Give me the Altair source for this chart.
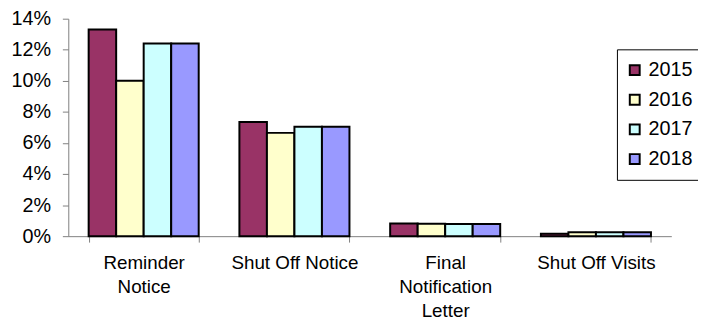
import altair as alt
import pandas as pd

categories = ["Reminder Notice", "Shut Off Notice", "Final Notification Letter", "Shut Off Visits"]
years = ["2015", "2016", "2017", "2018"]
v2015 = [13.3, 7.35, 0.82, 0.15]
v2016 = [10.0, 6.65, 0.80, 0.25]
v2017 = [12.4, 7.05, 0.78, 0.25]
v2018 = [12.4, 7.05, 0.78, 0.25]
colors = ["#993366", "#FFFFCC", "#CCFFFF", "#9999FF"]
y_ticks = [0, 0.02, 0.04, 0.06, 0.08, 0.10, 0.12, 0.14]

rows = []
for yr, vals in zip(years, [v2015, v2016, v2017, v2018]):
    for c, v in zip(categories, vals):
        rows.append({"category": c, "year": yr, "value": v / 100})
df = pd.DataFrame(rows)

label_expr = (
    "datum.value == 'Reminder Notice' ? ['Reminder', 'Notice'] : "
    "datum.value == 'Final Notification Letter' ? ['Final', 'Notification', 'Letter'] : datum.value"
)

font = "Liberation Sans"

chart = alt.Chart(df).mark_bar(stroke="black", strokeWidth=2).encode(
    x=alt.X(
        "category:N",
        sort=categories,
        scale=alt.Scale(paddingInner=0.27, paddingOuter=0.135),
        axis=alt.Axis(
            title=None, labelAngle=0, labelExpr=label_expr, tickBand="extent",
            tickSize=6, tickColor="#808080", domainColor="#808080",
            labelFont=font, labelFontSize=19, labelColor="black",
            labelPadding=12, labelLineHeight=24, labelBaseline="top",
        ),
    ),
    xOffset=alt.XOffset("year:N", sort=years),
    y=alt.Y(
        "value:Q",
        scale=alt.Scale(domain=[0, 0.14], nice=False),
        axis=alt.Axis(
            title=None, values=y_ticks, format=".0%", grid=False,
            tickSize=6, tickColor="#808080", domainColor="#808080",
            labelFont=font, labelFontSize=20, labelColor="black", labelPadding=12,
        ),
    ),
    fill=alt.Fill(
        "year:N",
        sort=years,
        scale=alt.Scale(domain=years, range=colors),
        legend=alt.Legend(
            title=None, orient="none", legendX=555, legendY=31,
            symbolType="square", symbolSize=100, symbolStrokeColor="black",
            symbolStrokeWidth=2, symbolOffset=-3, labelFont=font, labelFontSize=20,
            labelColor="black", labelOffset=4, rowPadding=10,
            labelExpr="datum.label + '        '",
            padding=11, strokeColor="black", fillColor="white",
        ),
    ),
).properties(
    width=610,
    height=220,
    autosize=alt.AutoSizeParams(type="none"),
    padding={"left": 61, "top": 9, "right": 27, "bottom": 85},
).configure_view(stroke=None)

chart.save("out.html", embed_options={"renderer": "svg", "actions": False})
